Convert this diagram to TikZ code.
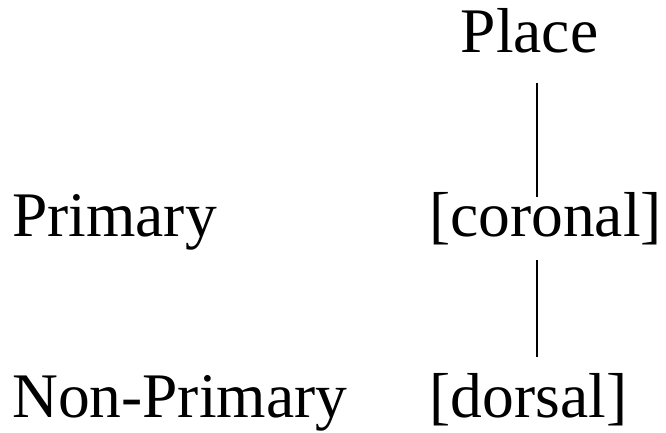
\documentclass[tikz,border=0pt]{standalone}
\usepackage{fontspec}
\setmainfont{Liberation Serif}
\begin{document}
\begin{tikzpicture}[x=1pt,y=1pt,
  lbl/.style={inner sep=0pt,font=\fontsize{63.5}{63.5}\selectfont},
  conn/.style={line width=1.3pt,black}]
\useasboundingbox (0,0) rectangle (666,433);
\node[lbl,anchor=base] (place) at (529.5,380) {Place};
\node[lbl,anchor=base west] (primary) at (12,196) {Primary};
\node[lbl,anchor=base] (coronal) at (545.5,196) {[coronal]};
\node[lbl,anchor=base west] (nonprimary) at (12,15) {Non-Primary};
\node[lbl,anchor=base] (dorsal) at (528.5,15) {[dorsal]};
\draw[conn] ([shift={(7.5pt,-30pt)}]place.base) -- ([shift={(-8.5pt,40pt)}]coronal.base);
\draw[conn] ([shift={(-8.5pt,-23pt)}]coronal.base) -- ([shift={(8.5pt,61pt)}]dorsal.base);
\end{tikzpicture}
\end{document}
